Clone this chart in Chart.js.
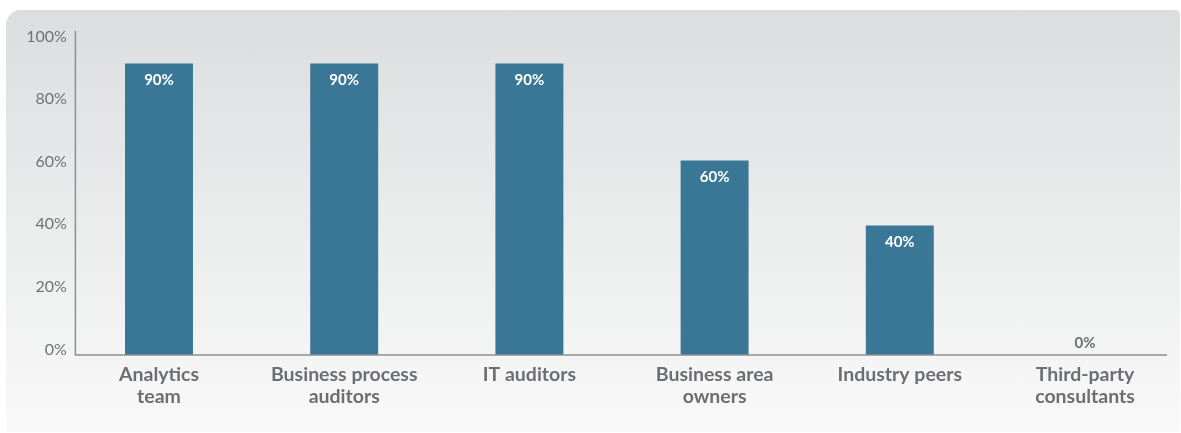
<!DOCTYPE html>
<html>
<head>
<meta charset="utf-8">
<script src="https://cdn.jsdelivr.net/npm/chart.js@4/dist/chart.umd.min.js"></script>
<style>
  html, body { margin: 0; padding: 0; background: #ffffff; }
  #wrap { position: relative; width: 1181px; height: 433px; overflow: hidden; }
  /* grey card behind the chart */
  #panel {
    position: absolute; left: 6px; top: 10px; width: 1174px; height: 422px;
    border-radius: 15px 5px 0 0;
    background: linear-gradient(to bottom, #dcdddf 0%, #eceded 55%, #f9f9f9 100%);
  }
  #shareChart { position: absolute; left: 0; top: 0; }
</style>
</head>
<body>
<div id="wrap">
  <div id="panel"></div>
  <canvas id="shareChart" width="1181" height="433"></canvas>
</div>
<script>
// who takes part, and what share of respondents said so
var categories = [
  ['Analytics', 'team'],
  ['Business process', 'auditors'],
  ['IT auditors'],
  ['Business area', 'owners'],
  ['Industry peers'],
  ['Third-party', 'consultants']
];
var shares = [90, 90, 90, 60, 40, 0];
var yTicks = [0, 20, 40, 60, 80, 100];

var barColor = '#3a7796';
var textGrey = '#6d6e71';

// axis lines sit a little inside the category band, so draw them by hand
var axisLines = {
  id: 'axisLines',
  afterDatasetsDraw: function(chart) {
    var ctx = chart.ctx;
    var area = chart.chartArea;
    var y = chart.scales.y;
    var x0 = area.left + 9;
    var y0 = y.getPixelForValue(0);
    ctx.save();
    ctx.strokeStyle = '#8e8f91';
    ctx.lineWidth = 1.5;
    ctx.beginPath();
    ctx.moveTo(x0, y.getPixelForValue(100));
    ctx.lineTo(x0, y0);
    ctx.lineTo(area.right - 10.5, y0);
    ctx.stroke();

    // percent labels, packed slightly tighter than the scale itself
    var mid = (y.getPixelForValue(0) + y.getPixelForValue(100)) / 2;
    ctx.font = '16px Lato';
    ctx.fillStyle = '#707172';
    ctx.textAlign = 'right';
    ctx.textBaseline = 'middle';
    yTicks.forEach(function(v) {
      var py = mid + (y.getPixelForValue(v) - mid) * 0.966;
      ctx.fillText(v + '%', area.left + 0.5, py);
    });
    ctx.restore();
  }
};

// value labels: white inside the bar, grey above the axis when the bar is empty
var valueLabels = {
  id: 'valueLabels',
  afterDatasetsDraw: function(chart) {
    var ctx = chart.ctx;
    var meta = chart.getDatasetMeta(0);
    ctx.save();
    ctx.font = 'bold 15px Lato';
    ctx.textAlign = 'center';
    ctx.textBaseline = 'middle';
    meta.data.forEach(function(bar, i) {
      var v = shares[i];
      if (v > 0) {
        ctx.fillStyle = '#ffffff';
        ctx.fillText(v + '%', bar.x, bar.y + 17);
      } else {
        ctx.fillStyle = textGrey;
        ctx.fillText(v + '%', bar.x, bar.y - 12);
      }
    });
    ctx.restore();
  }
};

var ctx = document.getElementById('shareChart').getContext('2d');
var shareChart = new Chart(ctx, {
  type: 'bar',
  data: {
    labels: categories,
    datasets: [{
      data: shares,
      backgroundColor: barColor,
      borderWidth: 0,
      barPercentage: 0.367,
      categoryPercentage: 1
    }]
  },
  options: {
    responsive: false,
    animation: false,
    layout: { padding: { top: 31, right: 3.4, bottom: 0, left: 0 } },
    plugins: {
      legend: { display: false },
      tooltip: { enabled: false }
    },
    scales: {
      x: {
        grid: { display: false },
        border: { display: false },
        afterFit: function(scale) { scale.height = 78; },
        ticks: {
          padding: 1,
          maxRotation: 0,
          autoSkip: false,
          color: textGrey,
          font: { family: 'Lato', size: 19.5, weight: 'bold', lineHeight: 1.13 }
        }
      },
      y: {
        min: 0,
        max: 100,
        grid: { display: false, drawTicks: false },
        border: { display: false },
        afterFit: function(scale) { scale.width = 66.4; },
        afterBuildTicks: function(scale) {
          scale.ticks = yTicks.map(function(v) { return { value: v }; });
        },
        ticks: { display: false }
      }
    }
  },
  plugins: [axisLines, valueLabels]
});
</script>
</body>
</html>
